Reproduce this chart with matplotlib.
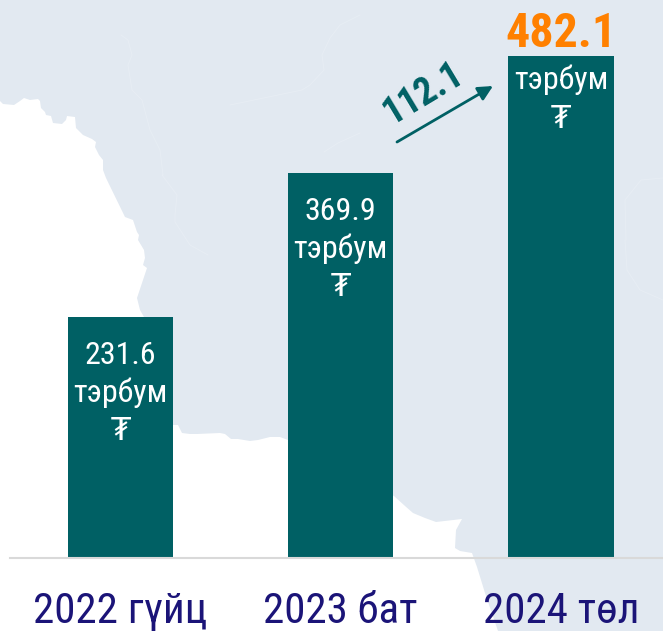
"""
Bar chart of three periods over a pale map silhouette.
"""

import matplotlib
matplotlib.use("Agg")
import matplotlib.pyplot as plt

# ==========================================
# DATA
# ==========================================
periods = ["2022 гүйц", "2023 бат", "2024 төл"]
values = [231.6, 369.9, 482.1]
unit = "тэрбум"
currency = "₮"
increase = "112.1"

# map silhouette in picture pixels (background decoration only)
map_x = [0, 3, 14, 20, 24, 30, 38, 40, 41, 45, 46, 51, 53, 62, 66, 67, 75, 76, 83, 92, 96, 95,
         99, 103, 103, 106, 125, 133, 137, 139, 138, 144, 145, 143, 147, 137, 140, 144, 173,
         178, 182, 190, 197, 220, 225, 231, 238, 250, 258, 270, 280, 288, 394, 405, 413, 425,
         436, 462, 456, 455, 460, 472, 477, 485, 498, 663, 663, 0]
map_y = [101, 104, 105, 101, 98, 100, 99, 101, 108, 112, 115, 116, 123, 124, 120, 116, 117, 128,
         135, 139, 142, 147, 155, 160, 170, 178, 217, 220, 232, 235, 240, 250, 258, 265, 268,
         298, 310, 317, 425, 425, 433, 434, 434, 433, 434, 439, 439, 441, 440, 437, 437, 440,
         496, 506, 513, 518, 522, 519, 530, 548, 551, 553, 567, 593, 631, 631, 0, 0]
border_x = [[121, 128, 132, 128, 132, 142, 150, 160, 163, 162, 177, 175, 175, 190, 208],
            [360, 340, 330, 322, 324, 310, 302, 278, 230],
            [324, 338, 360],
            [626, 625, 641, 663],
            [625, 627, 640, 663]]
border_y = [[35, 40, 55, 65, 90, 100, 130, 150, 175, 175, 195, 215, 222, 245, 255],
            [15, 25, 38, 55, 70, 85, 90, 95, 105],
            [152, 143, 133],
            [240, 200, 180, 178],
            [240, 270, 290, 300]]

# ==========================================
# CONFIGURATION
# ==========================================
TEAL = "#006064"
ORANGE = "#ff8000"
NAVY = "#1b1478"
MAP_COLOR = "#e2e9f1"
BORDER_COLOR = "#e7edf4"
FONT = ["Roboto Condensed", "Roboto", "DejaVu Sans"]

W, H = 663, 631
fig = plt.figure(figsize=(W / 100, H / 100), dpi=100)

# ==========================================
# BACKGROUND
# ==========================================
bg = fig.add_axes([0, 0, 1, 1], zorder=0)
bg.set_xlim(0, W)
bg.set_ylim(H, 0)
bg.axis("off")
bg.fill(map_x, map_y, color=MAP_COLOR, lw=0)
for bx, by in zip(border_x, border_y):
    bg.plot(bx, by, color=BORDER_COLOR, lw=0.7)

# ==========================================
# BARS
# ==========================================
ax = fig.add_axes([10 / W, (H - 558) / H, (W - 10) / W, 558 / H], zorder=1)
ax.patch.set_alpha(0)
ax.set_xlim((10 - 120.5) / 220.25, (W - 120.5) / 220.25)
ax.set_ylim(0, 558 / 1.041)

x_pos = list(range(len(values)))
ax.bar(x_pos, values, width=0.477, color=TEAL)

for spine in ["top", "left", "right"]:
    ax.spines[spine].set_visible(False)
ax.spines["bottom"].set_color("#d9d9d9")
ax.spines["bottom"].set_linewidth(1.5)
ax.set_yticks([])
ax.set_xticks(x_pos)
ax.set_xticklabels(periods, fontsize=31, color=NAVY, family=FONT)
ax.tick_params(axis="x", length=0, pad=24)

# labels inside the bars, measured down from each bar top
for x, v in zip(x_pos, values):
    last = v == values[-1]
    if last:
        ax.annotate(f"{v}", (x, v), xytext=(0, -1), textcoords="offset pixels", ha="center",
                    va="bottom", fontsize=34.5, fontweight="bold", color=ORANGE, family=FONT)
    else:
        ax.annotate(f"{v}", (x, v), xytext=(0, -39), textcoords="offset pixels", ha="center",
                    va="center", fontsize=23, color="white", family=FONT)
    ax.annotate(unit, (x, v), xytext=(0, -24 if last else -76), textcoords="offset pixels",
                ha="center", va="center", fontsize=23, color="white", family=FONT)
    ax.annotate(currency, (x, v), xytext=(0, -63 if last else -115), textcoords="offset pixels",
                ha="center", va="center", fontsize=23, color="white", family=FONT)

# ==========================================
# INCREASE ARROW
# ==========================================
bg.annotate("", xy=(493, 86), xytext=(397, 142),
            arrowprops=dict(arrowstyle="-|>", color=TEAL, lw=2, mutation_scale=22,
                            shrinkA=0, shrinkB=0))
bg.text(423, 94, increase, rotation=31, rotation_mode="anchor", ha="center", va="center",
        fontsize=27, fontweight="bold", color=TEAL, family=FONT)

plt.savefig("out.png", dpi=100)
plt.close()
